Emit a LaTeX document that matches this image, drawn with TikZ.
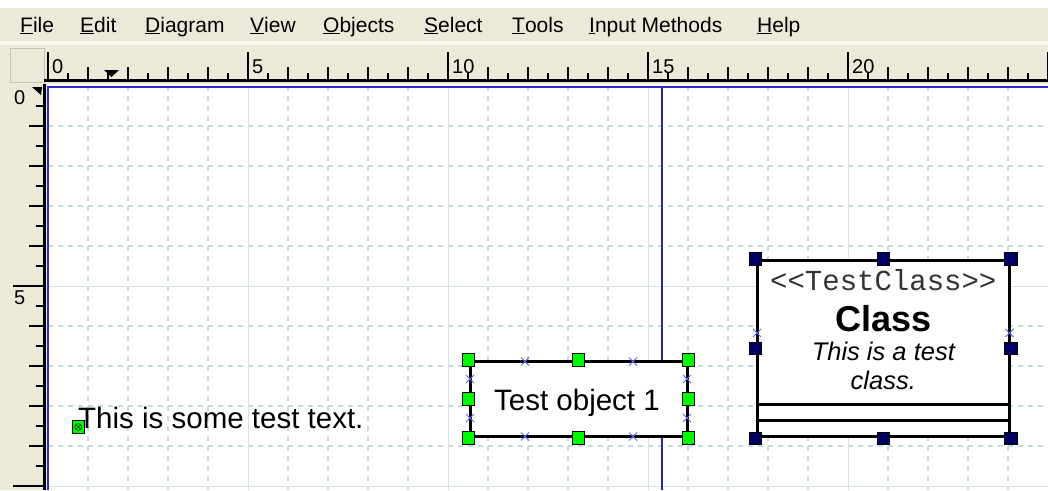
\documentclass[tikz,border=0pt]{standalone}
\usepackage{fontspec}
\setmainfont{Liberation Sans}
\newfontfamily\monof{Liberation Mono}
\usetikzlibrary{shapes.misc}
\definecolor{beige}{RGB}{236,233,216}
\definecolor{beigelight}{RGB}{248,247,240}
\definecolor{beigeborder}{RGB}{200,197,180}
\definecolor{gridc}{RGB}{196,220,220}
\definecolor{gridsolid}{RGB}{212,226,226}
\definecolor{canvasblue}{RGB}{45,45,215}
\definecolor{guideblue}{RGB}{40,40,170}
\definecolor{navyh}{RGB}{0,0,100}
\definecolor{xblue}{RGB}{100,100,245}
\definecolor{hgreen}{RGB}{0,250,0}
\tikzset{
  menuitem/.style={anchor=base west,inner sep=0pt,font=\fontsize{21}{24}\selectfont},
  rulerlabel/.style={anchor=base west,inner sep=0pt,font=\fontsize{20}{22}\selectfont},
  tickline/.style={line width=1.6pt,black},
  griddash/.style={gridc,line width=1.1pt,dash pattern=on 5pt off 5pt},
  gridfull/.style={gridsolid,line width=1pt},
  objbox/.style={draw=black,line width=3pt,fill=white,inner sep=0pt},
  greenhandle/.style={draw=black,fill=hgreen,line width=1pt,minimum size=12.5pt,inner sep=0pt},
  navyhandle/.style={draw=black,fill=navyh,line width=1pt,minimum size=12.5pt,inner sep=0pt},
  cpoint/.style={cross out,draw=xblue,line width=1pt,minimum size=7pt,inner sep=0pt},
  bigtext/.style={inner sep=0pt,font=\fontsize{29.5}{34}\selectfont}
}
\begin{document}
\begin{tikzpicture}[x=1pt,y=-1pt]
\useasboundingbox (0,0) rectangle (1048,490);
% background
\fill[white] (0,0) rectangle (1048,490);
\fill[beige] (0,8) rectangle (1048,41);
\fill[beigelight] (0,41) rectangle (1048,45);
\fill[beige] (0,45) rectangle (1048,84);
\fill[beige] (0,84) rectangle (48,490);
\filldraw[fill=beige,draw=beigeborder,line width=1pt] (10,48) rectangle (44,82);
% menu
\node[menuitem] (mfile) at (20,32) {\underline{F}ile};
\node[menuitem] (medit) at (80,32) {\underline{E}dit};
\node[menuitem] (mdiag) at (145,32) {\underline{D}iagram};
\node[menuitem] (mview) at (250,32) {\underline{V}iew};
\node[menuitem] (mobj) at (323,32) {\underline{O}bjects};
\node[menuitem] (msel) at (424,32) {\underline{S}elect};
\node[menuitem] (mtools) at (512,32) {\underline{T}ools};
\node[menuitem] (minput) at (589,32) {\underline{I}nput Methods};
\node[menuitem] (mhelp) at (757,32) {\underline{H}elp};
% canvas grid
\begin{scope}
\clip (48,86) rectangle (1048,490);
\foreach \x in {88,128,168,208,288,328,368,408,488,528,568,608,688,728,768,808,888,928,968,1008}
  \draw[griddash] (\x,86) -- (\x,490);
\foreach \y in {126,166,206,246,326,366,406,446}
  \draw[griddash] (48,\y) -- (1048,\y);
\foreach \x in {248,448,648,848}
  \draw[gridfull] (\x,86) -- (\x,490);
\foreach \y in {286,486}
  \draw[gridfull] (48,\y) -- (1048,\y);
\end{scope}
% guide line
\draw[guideblue,line width=1.5pt] (662,86) -- (662,490);
% canvas border
\draw[canvasblue,line width=2pt] (48,490) -- (48,86.5) -- (1048,86.5);
% horizontal ruler
\draw[black,line width=3pt] (44,80.5) -- (1048,80.5);
\foreach \i in {0,...,50} {
  \pgfmathtruncatemacro\m{mod(\i,10)}
  \pgfmathtruncatemacro\e{mod(\i,2)}
  \pgfmathsetmacro\xx{48+20*\i}
  \ifnum\m=0
    \draw[tickline] (\xx,52) -- (\xx,79);
  \else\ifnum\e=0
    \draw[tickline] (\xx,67) -- (\xx,79);
  \else
    \draw[tickline] (\xx,73) -- (\xx,79);
  \fi\fi
}
\node[rulerlabel] (rl0) at (52,73) {0};
\node[rulerlabel] (rl5) at (252,73) {5};
\node[rulerlabel] (rl10) at (452,73) {10};
\node[rulerlabel] (rl15) at (652,73) {15};
\node[rulerlabel] (rl20) at (852,73) {20};
\fill[black] (104,70) -- (119,70) -- (111.5,77) -- cycle;
% vertical ruler
\draw[black,line width=3pt] (44.5,84) -- (44.5,490);
\foreach \j in {1,...,20} {
  \pgfmathtruncatemacro\m{mod(\j,10)}
  \pgfmathtruncatemacro\e{mod(\j,2)}
  \pgfmathsetmacro\yy{86+20*\j}
  \ifnum\m=0
    \draw[tickline] (13,\yy) -- (43,\yy);
  \else\ifnum\e=0
    \draw[tickline] (29,\yy) -- (43,\yy);
  \else
    \draw[tickline] (36,\yy) -- (43,\yy);
  \fi\fi
}
\node[rulerlabel] (vl0) at (14,104) {0};
\node[rulerlabel] (vl5) at (14,304) {5};
\fill[black] (32,87) -- (42,87) -- (41,95) -- cycle;
% free text
\node[bigtext,anchor=base west] (freetext) at (78,428) {This is some test text.};
\node[greenhandle,path picture={
  \draw[black!70!green,line width=0.7pt] (path picture bounding box.center) circle (3.5pt);
  \draw[black!70!green,line width=0.7pt] ([shift={(-2.5pt,-2.5pt)}]path picture bounding box.center) -- ([shift={(2.5pt,2.5pt)}]path picture bounding box.center);
  \draw[black!70!green,line width=0.7pt] ([shift={(-2.5pt,2.5pt)}]path picture bounding box.center) -- ([shift={(2.5pt,-2.5pt)}]path picture bounding box.center);
}] (th) at (78.3,427) {};
% test object
\node[objbox,minimum width=217pt,minimum height=75pt] (obj) at (578.5,399) {};
\node[bigtext,anchor=base] (objtxt) at (577,410) {Test object 1};
\node[cpoint] (oc1) at (525,361.5) {};
\node[cpoint] (oc2) at (633,361.5) {};
\node[cpoint] (oc3) at (525,436.5) {};
\node[cpoint] (oc4) at (633,436.5) {};
\node[cpoint] (oc5) at (470,379) {};
\node[cpoint] (oc6) at (470,418) {};
\node[cpoint] (oc7) at (687,379) {};
\node[cpoint] (oc8) at (687,418) {};
\foreach \a in {north west,north,north east,west,east,south west,south,south east}
  \node[greenhandle] (oh-\a) at (obj.\a) {};
% class
\node[objbox,minimum width=252.5pt,minimum height=176.5pt] (cls) at (883.3,348.5) {};
\coordinate (c1w) at (757,404);
\coordinate (c1e) at (1009.5,404);
\coordinate (c2w) at (757,420);
\coordinate (c2e) at (1009.5,420);
\draw[black,line width=3pt] (c1w) -- (c1e);
\draw[black,line width=3pt] (c2w) -- (c2e);
\node[anchor=base,inner sep=0pt,text=black!80,font=\monof\fontsize{29}{32}\selectfont] (stereo) at (883.3,290) {<\kern0pt<TestClass>\kern0pt>};
\node[anchor=base,inner sep=0pt,font=\bfseries\fontsize{36}{40}\selectfont] (cname) at (883.3,331) {Class};
\node[anchor=base,inner sep=0pt,font=\itshape\fontsize{25.5}{30}\selectfont] (cdesc1) at (883.3,360) {This is a test};
\node[anchor=base,inner sep=0pt,font=\itshape\fontsize{25.5}{30}\selectfont] (cdesc2) at (883.3,389) {class.};
\node[cpoint] (cc1) at (757,333) {};
\node[cpoint] (cc2) at (1009.5,333) {};
\foreach \a in {north west,north,north east,west,east,south west,south,south east}
  \node[navyhandle] (ch-\a) at (cls.\a) {};
\end{tikzpicture}
\end{document}
